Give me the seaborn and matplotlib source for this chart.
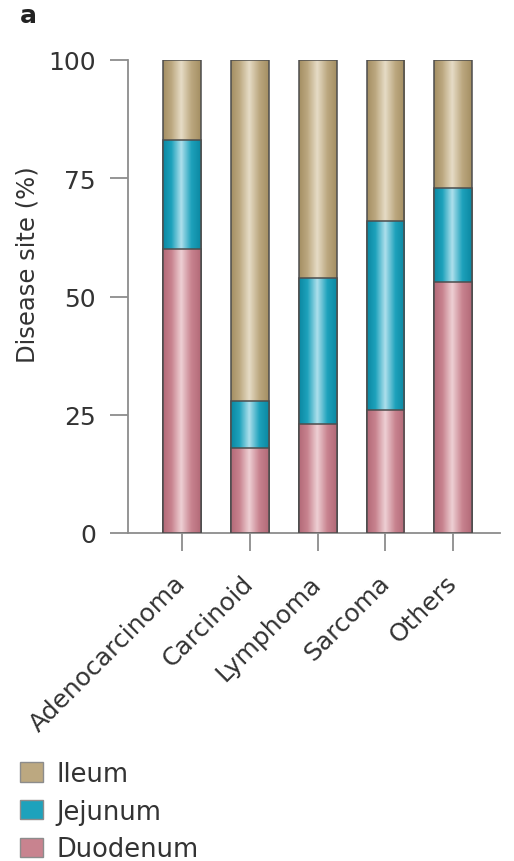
import matplotlib
matplotlib.use("Agg")
import matplotlib.pyplot as plt
import numpy as np
import pandas as pd
import seaborn as sns
from matplotlib.colors import LinearSegmentedColormap
from matplotlib.patches import Patch

# ----------------------------------------------------------
# Data (percent of cases by disease site)
# ----------------------------------------------------------
categories = ["Adenocarcinoma", "Carcinoid", "Lymphoma", "Sarcoma", "Others"]
duodenum   = [60, 18, 23, 26, 53]
jejunum    = [23, 10, 31, 40, 20]
ileum      = [17, 72, 46, 34, 27]
sites      = ["Ileum", "Jejunum", "Duodenum"]
y_ticks    = [0, 25, 50, 75, 100]

df = pd.DataFrame({
    "Tumour":   categories,
    "Duodenum": duodenum,
    "Jejunum":  jejunum,
    "Ileum":    ileum,
})
df["Jejunum_top"] = df["Duodenum"] + df["Jejunum"]
df["Ileum_top"]   = df["Jejunum_top"] + df["Ileum"]

# colour shades: (edge-dark, mid, highlight)
shades = {
    "Ileum":    ("#a48f63", "#bca880", "#e6dcc6"),
    "Jejunum":  ("#0b88a2", "#1ea2bc", "#aee0ec"),
    "Duodenum": ("#b36a78", "#c8838f", "#eed0d4"),
}
edge_col  = "#4d4d4d"
axis_col  = "#8c8c8c"
text_col  = "#333333"

sns.set_style("ticks")
plt.rcParams["font.family"] = ["DejaVu Sans"]

fig = plt.figure(figsize=(5.14, 8.62), dpi=100)
ax = fig.add_axes([128 / 514, 1 - 534 / 862, 372 / 514, 473 / 862])

layers = [("Ileum_top", "Ileum"), ("Jejunum_top", "Jejunum"), ("Duodenum", "Duodenum")]

for i, (col, site) in enumerate(layers):
    dark, mid, light = shades[site]
    cmap = LinearSegmentedColormap.from_list(
        site, [(0, dark), (0.22, mid), (0.48, light), (0.75, mid), (1, dark)]
    )
    n_before = len(ax.patches)
    sns.barplot(data=df, x="Tumour", y=col, color=mid, width=0.56,
                saturation=1, errorbar=None, ax=ax,
                edgecolor=edge_col, linewidth=1.1)
    grad = np.linspace(0, 1, 64).reshape(1, -1)
    for p in ax.patches[n_before:]:
        x0, y0 = p.get_x(), p.get_y()
        w, h = p.get_width(), p.get_height()
        im = ax.imshow(grad, extent=[x0, x0 + w, y0, y0 + h], aspect="auto",
                       cmap=cmap, zorder=2 + i, interpolation="bilinear")
        im.set_clip_path(p)
        p.set_facecolor("none")
        p.set_zorder(2.5 + i)

ax.set_xlim(-0.8, 4.69)
ax.set_ylim(0, 100)
ax.set_yticks(y_ticks)
ax.set_xticks(range(len(categories)))
ax.set_xticklabels(categories, rotation=45, ha="right", va="center",
                   rotation_mode="anchor", fontsize=18, color=text_col)
ax.set_xlabel("")
ax.set_ylabel("Disease site (%)", fontsize=17.5, color=text_col)
ax.yaxis.set_label_coords(-0.237, 0.569)

sns.despine(ax=ax)
for s in ["left", "bottom"]:
    ax.spines[s].set_color(axis_col)
    ax.spines[s].set_linewidth(1.3)
ax.tick_params(axis="both", length=13, width=1.3, color=axis_col,
               labelcolor=text_col)
ax.tick_params(axis="y", labelsize=18, pad=10)
ax.tick_params(axis="x", pad=20)

handles = [Patch(facecolor=shades[s][1], edgecolor=axis_col, label=s) for s in sites]
fig.legend(handles=handles, loc="upper left", bbox_to_anchor=(20 / 514, 1 - 762 / 862),
           frameon=False, fontsize=18.5, handlelength=0.88, handleheight=0.77,
           handletextpad=0.55, labelspacing=0.45, borderpad=0, borderaxespad=0,
           labelcolor=text_col)

fig.text(20 / 514, 1 - 23 / 862, "a", fontsize=18, fontweight="bold",
         color="#222222", va="baseline")

fig.savefig("out.png", dpi=100)
